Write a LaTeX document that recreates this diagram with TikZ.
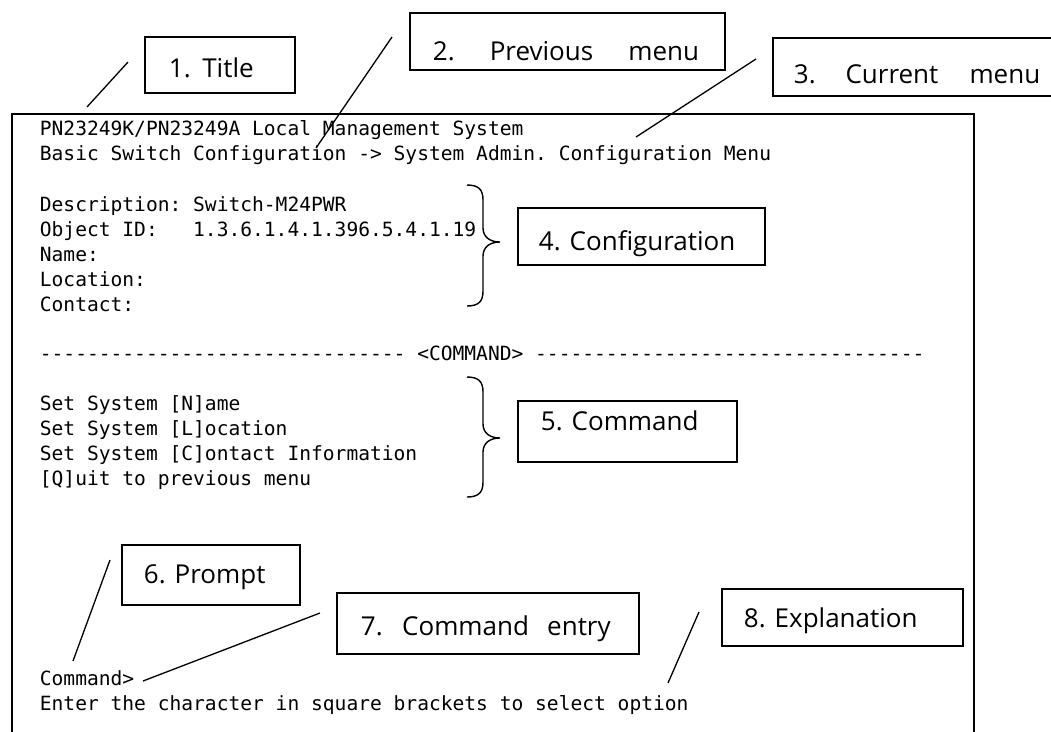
\documentclass[tikz,border=0pt]{standalone}
\usepackage{fontspec}
\setmainfont{Open Sans}
\setmonofont{DejaVu Sans Mono}
\usetikzlibrary{positioning,fit}

\begin{document}
\begin{tikzpicture}[
  x=0.02cm, y=-0.02cm,
  line width=1pt,
  term/.style={anchor=base west, inner sep=0pt, font=\fontsize{11.15}{14}\ttfamily},
  tagbox/.style={draw, inner sep=0pt, line width=1.1pt},
  tag/.style={anchor=base west, inner sep=0pt, font=\fontsize{14.8}{18}\selectfont},
  lead/.style={line width=0.75pt},
  curly/.style={line width=0.8pt}
]
\useasboundingbox (0,0) rectangle (1051,731);

% terminal window, open at the bottom
\draw (12,745) -- (12,114) -- (974,114) -- (974,745);

\node[term] (head) at (39,135) {PN23249K/PN23249A Local Management System};
\node[term] (path) at (39,160) {Basic Switch Configuration -> System Admin. Configuration Menu};

\foreach \txt [count=\i] in {Description: Switch-M24PWR, Object ID:\ \ \ 1.3.6.1.4.1.396.5.4.1.19, Name:, Location:, Contact:} {
  \node[term] (cfg\i) at (39,186+25*\i) {\txt};
}

\node[term] (rule) at (39,360) {------------------------------- <COMMAND> ---------------------------------};

\foreach \txt [count=\i] in {Set System [N]ame, Set System [L]ocation, Set System [C]ontact Information, [Q]uit to previous menu} {
  \node[term] (cmd\i) at (39,385+25*\i) {\txt};
}

\node[term] (prompt) at (39,685) {Command>};
\node[term] (hint) at (39,710) {Enter the character in square brackets to select option};

% curly brackets
\foreach \top/\tip/\bot in {185/242/306, 377/438/497} {
  \draw[curly] (467,\top) .. controls (479,\top) and (483,\top+5) .. (483,\top+15)
    -- (483,\tip-14) .. controls (483,\tip-5) and (490,\tip) .. (500,\tip)
    .. controls (490,\tip) and (483,\tip+5) .. (483,\tip+14)
    -- (483,\bot-15) .. controls (483,\bot-5) and (479,\bot) .. (467,\bot);
}

% callout boxes
\node[tagbox, fit={(145,37) (295,93)}] (box1) {};
\node[tag] (tag1) at (168,77) {1.\hspace{0.45em}Title};
\node[tagbox, fit={(410,13) (725,70)}] (box2) {};
\node[tag] (tag2) at (432,60) {2.\hspace{1.35em}Previous\hspace{1.35em}menu};
\node[tagbox, fit={(773,38) (1064,96)}] (box3) {};
\node[tag] (tag3) at (793,83) {3.\hspace{1.15em}Current\hspace{1.2em}menu};
\node[tagbox, fit={(518,208) (765,265)}] (box4) {};
\node[tag] (tag4) at (538,250) {4. Configuration};
\node[tagbox, fit={(518,401) (737,462)}] (box5) {};
\node[tag] (tag5) at (540,430) {5. Command};
\node[tagbox, fit={(122,545) (300,605)}] (box6) {};
\node[tag] (tag6) at (143,583) {6. Prompt};
\node[tagbox, fit={(337,593) (639,654)}] (box7) {};
\node[tag] (tag7) at (360,635) {7.\hspace{0.75em}Command\hspace{0.7em}entry};
\node[tagbox, fit={(722,589) (963,646)}] (box8) {};
\node[tag] (tag8) at (743,627) {8. Explanation};

% leader lines
\coordinate (from1) at (128,62);   \coordinate (to1) at (87,107);
\coordinate (from2) at (392,37);   \coordinate (to2) at (316,148);
\coordinate (from3) at (756,59);   \coordinate (to3) at (636,137);
\coordinate (from6) at (110,560);  \coordinate (to6) at (73,661);
\coordinate (from7) at (320,613);  \coordinate (to7) at (143,681);
\coordinate (from8) at (699,612);  \coordinate (to8) at (668,683);
\foreach \k in {1,2,3,6,7,8} {
  \draw[lead] (from\k) -- (to\k);
}

\end{tikzpicture}
\end{document}
